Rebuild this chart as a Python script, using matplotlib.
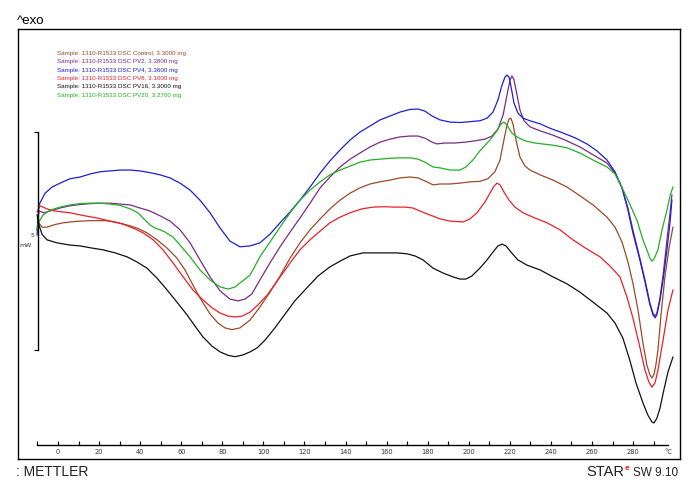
import matplotlib
matplotlib.use('Agg')
import matplotlib.pyplot as plt

# DSC curves, 1310-R1533 samples (temperature in degC, heat flow in mW, exo up)
labels = [
    'Sample: 1310-R1533 DSC Control, 3.3000 mg',
    'Sample: 1310-R1533 DSC PV2, 3.3800 mg',
    'Sample: 1310-R1533 DSC PV4, 3.3600 mg',
    'Sample: 1310-R1533 DSC PV8, 3.1000 mg',
    'Sample: 1310-R1533 DSC PV16, 3.3000 mg',
    'Sample: 1310-R1533 DSC PV20, 3.2700 mg',
]
colors = ['#9a4a26', '#7a2b86', '#1f1fd0', '#e8202a', '#101010', '#22b022']

control_T = [-10.2, -9.7, -7.8, -5.4, -1.5, 2.4, 8.3, 15.6, 22.9, 27.8, 33.6, 38.5,
             43.3, 48.2, 53.1, 57.9, 61.8, 65.7, 69.1, 74.0, 77.9, 81.3, 84.7, 88.6,
             93.5, 98.3, 103.2, 108.1, 113.0, 117.8, 122.7, 127.6, 132.4, 137.3,
             142.2, 147.0, 151.9, 156.8, 161.7, 166.5, 171.4, 175.3, 178.7, 182.6,
             186.0, 190.8, 195.7, 200.6, 205.4, 209.3, 212.7, 215.2, 217.1, 218.6,
             219.6, 220.5, 221.5, 223.0, 224.9, 227.4, 229.8, 234.7, 241.0, 247.8,
             254.1, 260.5, 267.3, 271.2, 274.6, 277.5, 279.9, 282.4, 284.8, 286.7,
             288.2, 289.2, 290.2, 291.1, 292.1, 293.6, 295.5, 297.5, 299.4]
control_mW = [4.89, 5.07, 4.95, 4.95, 5.01, 5.05, 5.08, 5.10, 5.10, 5.07, 5.00, 4.93,
              4.82, 4.66, 4.47, 4.24, 3.97, 3.62, 3.33, 2.96, 2.75, 2.64, 2.60, 2.64,
              2.82, 3.12, 3.46, 3.83, 4.24, 4.59, 4.89, 5.14, 5.37, 5.57,
              5.73, 5.85, 5.94, 5.99, 6.03, 6.08, 6.10, 6.08, 6.01, 5.92,
              5.94, 5.94, 5.96, 5.99, 6.00, 6.06, 6.22, 6.49, 6.95, 7.29,
              7.43, 7.45, 7.32, 6.95, 6.56, 6.35, 6.26, 6.15, 6.03, 5.87,
              5.67, 5.46, 5.18, 4.95, 4.61, 4.15, 3.67, 3.05, 2.29, 1.79,
              1.56, 1.49, 1.58, 1.79, 2.13, 2.94, 3.81, 4.47, 4.95]

pv2_T = [-10.2, -9.3, -6.8, -3.9, 1.0, 5.8, 10.7, 15.6, 20.4, 25.3, 30.2, 35.1,
         39.9, 44.8, 49.7, 54.5, 59.4, 64.3, 69.1, 74.0, 78.9, 83.7, 87.6, 91.0,
         94.4, 98.3, 103.2, 108.1, 113.0, 117.8, 122.7, 127.6, 132.4, 137.3,
         142.2, 147.0, 151.9, 156.8, 161.7, 166.5, 171.4, 175.3, 178.7, 182.1,
         184.5, 188.4, 193.2, 198.2, 203.0, 207.9, 211.3, 214.2, 216.7, 218.6,
         220.1, 221.0, 222.0, 223.5, 224.9, 226.9, 229.8, 234.7, 241.0, 246.8,
         254.1, 260.5, 267.3, 271.2, 274.6, 277.5, 279.9, 283.3, 285.8, 288.2,
         289.7, 290.7, 291.6, 293.1, 294.6, 296.5, 298.0, 298.9]
pv2_mW = [4.89, 5.32, 5.28, 5.32, 5.39, 5.44, 5.47, 5.49, 5.50, 5.50, 5.48, 5.46,
          5.39, 5.32, 5.21, 5.09, 4.89, 4.59, 4.20, 3.81, 3.49, 3.30, 3.26, 3.30,
          3.42, 3.74, 4.13, 4.50, 4.84, 5.16, 5.50, 5.85, 6.10, 6.33,
          6.51, 6.65, 6.79, 6.90, 6.97, 7.02, 7.04, 7.04, 6.99, 6.90,
          6.86, 6.88, 6.88, 6.90, 6.93, 6.97, 7.04, 7.20, 7.52, 7.98,
          8.33, 8.42, 8.33, 7.98, 7.64, 7.39, 7.25, 7.16, 7.06, 6.95,
          6.79, 6.61, 6.42, 6.19, 5.85, 5.39, 4.89, 4.24, 3.74, 3.21,
          2.98, 2.91, 2.98, 3.33, 3.85, 4.66, 5.28, 5.69]

pv4_T = [-10.2, -9.3, -6.3, -2.9, 1.0, 5.8, 10.7, 15.6, 20.4, 25.3, 30.2, 35.1,
         39.9, 44.8, 49.7, 54.5, 59.4, 64.3, 69.1, 74.0, 78.9, 83.7, 88.6, 93.5,
         98.3, 103.2, 108.1, 113.0, 117.8, 122.7, 127.6, 132.4, 137.3, 142.2,
         147.0, 151.9, 156.8, 161.7, 166.5, 171.4, 175.3, 178.7, 182.1, 186.0,
         190.8, 195.7, 200.6, 205.4, 208.9, 211.8, 214.2, 216.2, 217.6, 218.6,
         219.6, 220.5, 222.0, 223.9, 226.4, 229.8, 234.7, 239.5, 245.9, 251.7,
         257.5, 262.4, 267.3, 271.2, 274.6, 277.5, 279.9, 283.3, 285.8, 288.2,
         289.7, 290.7, 291.6, 293.1, 294.6, 296.5, 298.0, 298.9]
pv4_mW = [4.77, 5.46, 5.73, 5.87, 5.96, 6.06, 6.10, 6.17, 6.22, 6.24, 6.26, 6.26,
          6.24, 6.20, 6.15, 6.08, 5.96, 5.80, 5.57, 5.28, 4.93, 4.63, 4.50, 4.52,
          4.59, 4.79, 5.05, 5.30, 5.57, 5.87, 6.19, 6.47, 6.72, 6.95,
          7.13, 7.27, 7.41, 7.50, 7.59, 7.65, 7.66, 7.61, 7.50, 7.41,
          7.36, 7.35, 7.37, 7.39, 7.45, 7.59, 7.87, 8.21, 8.39, 8.44,
          8.39, 8.19, 7.80, 7.57, 7.45, 7.39, 7.32, 7.22, 7.11, 7.00,
          6.86, 6.70, 6.49, 6.22, 5.85, 5.34, 4.82, 4.20, 3.69, 3.17,
          2.94, 2.87, 2.94, 3.28, 3.74, 4.43, 5.07, 5.57]

pv8_T = [-10.2, -8.8, -5.4, -1.5, 5.8, 13.1, 19.0, 25.3, 31.6, 37.5, 41.4, 46.3,
         51.1, 56.0, 60.9, 65.7, 70.6, 75.0, 78.9, 82.8, 86.2, 89.6, 93.5, 97.4,
         101.8, 107.1, 113.0, 117.8, 122.7, 127.6, 132.4, 137.3, 142.2, 148.0,
         153.4, 159.2, 163.1, 168.9, 172.8, 176.2, 181.1, 186.0, 190.8, 197.2,
         200.6, 204.0, 207.9, 210.3, 212.3, 213.7, 215.2, 217.1, 219.6, 222.5,
         226.4, 232.2, 238.1, 244.4, 250.7, 257.5, 263.9, 268.7, 273.6, 277.0,
         279.9, 283.3, 285.8, 287.7, 289.2, 290.7, 292.1, 294.6, 297.0, 299.4]
pv8_mW = [5.30, 5.44, 5.37, 5.32, 5.28, 5.21, 5.16, 5.09, 5.02, 4.91, 4.82, 4.66,
          4.43, 4.13, 3.81, 3.51, 3.28, 3.10, 2.98, 2.91, 2.89, 2.91, 3.00, 3.17,
          3.39, 3.74, 4.13, 4.43, 4.66, 4.86, 5.05, 5.18, 5.28, 5.37,
          5.41, 5.42, 5.41, 5.41, 5.39, 5.32, 5.23, 5.14, 5.09, 5.07,
          5.14, 5.28, 5.53, 5.73, 5.89, 5.96, 5.92, 5.76, 5.57, 5.41,
          5.28, 5.16, 5.05, 4.89, 4.66, 4.45, 4.27, 4.06, 3.81, 3.35,
          2.87, 2.20, 1.67, 1.40, 1.28, 1.38, 1.67, 2.36, 3.05, 3.51]

pv16_T = [-10.2, -9.3, -7.8, -5.4, -0.5, 5.8, 10.7, 16.6, 21.9, 27.8, 33.6, 38.5,
          43.3, 48.2, 53.1, 57.9, 62.8, 66.7, 70.6, 75.0, 78.9, 82.8, 86.2, 90.1,
          93.5, 96.9, 100.8, 105.6, 109.5, 115.3, 121.2, 126.6, 132.4, 137.3,
          142.2, 148.5, 156.8, 165.0, 169.9, 173.8, 177.7, 182.6, 187.4, 192.3,
          195.7, 198.6, 201.5, 205.4, 208.9, 211.8, 214.2, 216.2, 218.1, 220.5,
          223.9, 228.3, 234.7, 241.0, 247.8, 254.1, 260.5, 267.3, 271.2, 275.0,
          278.4, 281.4, 284.8, 287.2, 289.2, 290.2, 291.6, 293.1, 295.0, 297.0, 299.4]
pv16_mW = [5.23, 5.00, 4.79, 4.66, 4.59, 4.54, 4.52, 4.47, 4.43, 4.36, 4.27, 4.15,
           4.01, 3.78, 3.51, 3.23, 2.94, 2.68, 2.43, 2.22, 2.09, 2.01, 1.98, 2.02,
           2.09, 2.18, 2.36, 2.64, 2.89, 3.26, 3.56, 3.83, 4.04, 4.17,
           4.29, 4.36, 4.36, 4.36, 4.34, 4.29, 4.20, 4.01, 3.90, 3.81,
           3.76, 3.76, 3.83, 4.01, 4.20, 4.38, 4.52, 4.56, 4.52, 4.38,
           4.20, 4.08, 3.97, 3.81, 3.65, 3.46, 3.23, 2.98, 2.75, 2.41,
           1.90, 1.38, 0.92, 0.64, 0.48, 0.46, 0.57, 0.80, 1.22, 1.63, 1.97]

pv20_T = [-10.2, -9.3, -7.3, -3.9, 1.0, 5.8, 10.7, 15.6, 20.4, 25.3, 30.2, 35.1,
          38.9, 42.4, 44.8, 47.2, 49.7, 52.1, 56.0, 59.4, 64.3, 69.1, 74.0, 78.9,
          82.8, 86.2, 88.6, 93.5, 98.3, 103.2, 108.1, 113.0, 117.8, 122.7, 127.6,
          132.4, 137.3, 142.2, 147.0, 151.9, 156.8, 161.7, 166.5, 171.4, 175.3,
          178.7, 182.6, 186.0, 190.8, 195.7, 198.6, 202.0, 205.4, 210.3, 213.7,
          215.7, 217.1, 218.6, 221.0, 223.5, 227.4, 232.2, 241.0, 247.8, 254.1,
          260.5, 267.3, 271.2, 273.6, 277.5, 281.9, 284.8, 286.7, 288.2, 289.2,
          290.2, 292.1, 294.1, 296.5, 298.0, 299.4]
pv20_mW = [4.89, 5.07, 5.23, 5.34, 5.41, 5.46, 5.49, 5.50, 5.50, 5.48, 5.45, 5.37,
           5.28, 5.11, 5.00, 4.93, 4.89, 4.84, 4.72, 4.54, 4.27, 3.97, 3.74, 3.58,
           3.53, 3.58, 3.67, 3.85, 4.27, 4.61, 4.95, 5.28, 5.57, 5.80, 5.99,
           6.15, 6.26, 6.35, 6.44, 6.49, 6.51, 6.53, 6.54, 6.54, 6.51,
           6.44, 6.33, 6.31, 6.26, 6.26, 6.33, 6.49, 6.70, 6.95, 7.16,
           7.32, 7.36, 7.29, 7.11, 7.02, 6.93, 6.88, 6.83, 6.77, 6.65,
           6.49, 6.33, 6.17, 5.96, 5.57, 5.11, 4.66, 4.43, 4.24, 4.17,
           4.22, 4.43, 4.89, 5.34, 5.67, 5.87]

series = [(control_T, control_mW), (pv2_T, pv2_mW), (pv4_T, pv4_mW),
          (pv8_T, pv8_mW), (pv16_T, pv16_mW), (pv20_T, pv20_mW)]
x_ticks = list(range(-10, 291, 10))
x_ticklabels = [str(t) if t >= 0 and t % 20 == 0 else '' for t in x_ticks]

W, H = 696, 491
fig = plt.figure(figsize=(W / 100, H / 100), dpi=100)
fig.patch.set_facecolor('white')

# outer frame
frame = fig.add_axes([18 / W, (H - 459) / H, 662 / W, 430 / H])
frame.set_xticks([])
frame.set_yticks([])
for sp in frame.spines.values():
    sp.set_linewidth(1.0)
    sp.set_color('black')
frame.patch.set_alpha(0)

# plotting area: bottom spine = temperature axis, left spine = 5 mW scale bar
ax = fig.add_axes([37.5 / W, (H - 445) / H, 630.5 / W, 416 / H])
ax.patch.set_alpha(0)
ax.set_xlim(-10, 297)
ax.set_ylim(-0.046, 9.495)

for (t, q), c in zip(series, colors):
    ax.plot(t, q, color=c, lw=0.9, clip_on=False)

ax.spines['top'].set_visible(False)
ax.spines['right'].set_visible(False)
ax.spines['bottom'].set_linewidth(1.0)
ax.spines['left'].set_linewidth(1.0)
ax.spines['left'].set_bounds(2.13, 7.13)

ax.set_xticks(x_ticks)
ax.set_xticklabels(x_ticklabels)
ax.tick_params(axis='x', direction='in', length=3, width=0.8, pad=3,
               labelsize=4.8, labelcolor='#333333')
ax.set_yticks([2.13, 7.13])
ax.set_yticklabels([])
ax.tick_params(axis='y', direction='out', length=3, width=0.8)

ax.text(297, -7 / 416, '°C', transform=ax.get_xaxis_transform(), fontsize=4.8,
        color='#333333', ha='center', va='center')
ax.text(-0.0045, 4.76, '5', transform=ax.get_yaxis_transform(), fontsize=4.5,
        color='#333333', ha='right', va='center')
ax.text(-0.009, 4.53, 'mW', transform=ax.get_yaxis_transform(), fontsize=4.5,
        color='#333333', ha='right', va='center')

# sample list
for i, (lab, c) in enumerate(zip(labels, colors)):
    fig.text(57 / W, 1 - (53.5 + 8.3 * i) / H, lab, fontsize=4.5, color=c,
             family='Liberation Sans', ha='left', va='center')

fig.text(17 / W, 1 - 24 / H, '^exo', fontsize=9.5, family='Liberation Sans',
         ha='left', va='baseline')
fig.text(16 / W, 1 - 476 / H, ': METTLER', fontsize=10, family='Liberation Sans',
         color='#222222', ha='left', va='baseline')
fig.text(624 / W, 1 - 476 / H, 'STAR', fontsize=10.5, family='Liberation Sans',
         color='#222222', ha='right', va='baseline')
fig.text(625 / W, 1 - 470 / H, 'e', fontsize=6, family='Liberation Sans',
         color='#d0202a', ha='left', va='baseline', fontweight='bold')
fig.text(633 / W, 1 - 476 / H, 'SW 9.10', fontsize=8.5, family='Liberation Sans',
         color='#222222', ha='left', va='baseline')

fig.savefig('out.png', dpi=100)
